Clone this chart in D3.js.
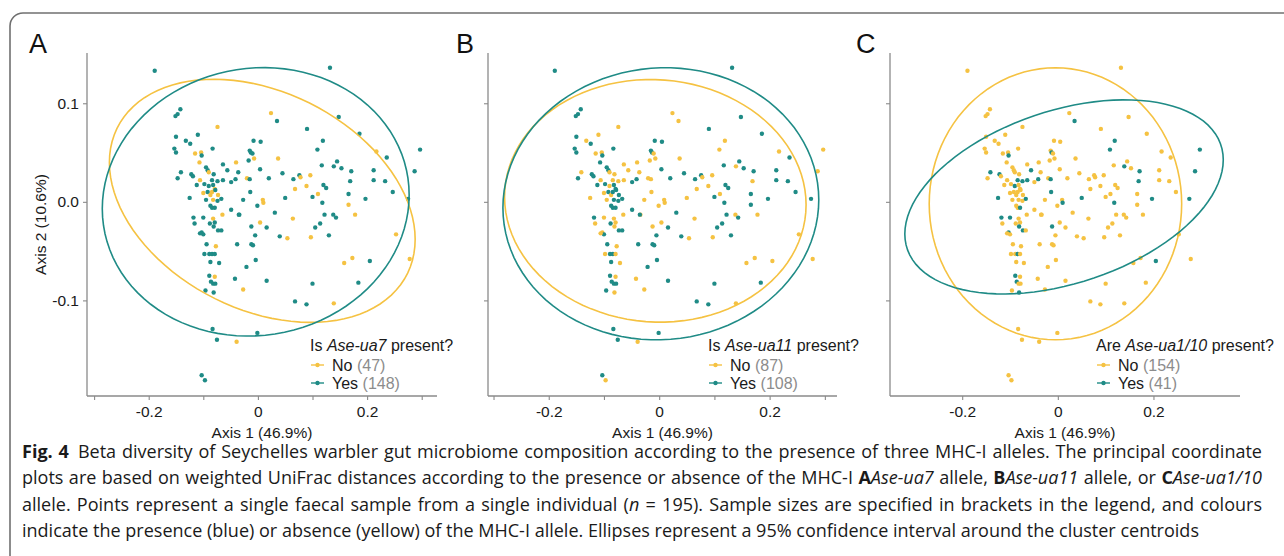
<!DOCTYPE html>
<html>
<head>
<meta charset="utf-8">
<script src="https://cdn.jsdelivr.net/npm/d3@7"></script>
<style>
body{margin:0;background:#fff}
svg{display:block}
</style>
</head>
<body>
<script>
// PCoA coordinates (axis 1, axis 2), one per sample
const pcoX=[
 -0.189, 0.132,-0.142,-0.147,-0.151, 0.024, 0.035, 0.148,-0.074, 0.090,
  0.186,-0.150,-0.110,-0.132,-0.124,-0.008, 0.005, 0.119,-0.153,-0.150,
 -0.083,-0.115,-0.104,-0.103,-0.015,-0.013,-0.010, 0.109, 0.217, 0.297,
  0.236,-0.017,-0.007, 0.037,-0.107,-0.040, 0.145, 0.117, 0.139, 0.153,
 -0.064,-0.095,-0.092,-0.090,-0.141,-0.122,-0.081,-0.056,-0.036, 0.004,
  0.045, 0.076, 0.078, 0.096, 0.171, 0.212, 0.212, 0.287,-0.147,-0.119,
 -0.106,-0.084,-0.074,-0.064,-0.049,-0.041,-0.020,-0.015, 0.020, 0.065,
  0.233,-0.112,-0.098,-0.090,-0.082,-0.079, 0.068, 0.089, 0.120, 0.125,
  0.169,-0.100,-0.092,-0.087,-0.084,-0.078,-0.073,-0.125,-0.095,-0.082,
 -0.074,-0.067,-0.027,-0.014, 0.009, 0.050, 0.100, 0.110, 0.166, 0.197,
  0.247, 0.275,-0.087,-0.084,-0.079,-0.049,-0.034,-0.001, 0.010, 0.031,
  0.118, 0.166,-0.100,-0.082,-0.118,-0.088,-0.079,-0.065,-0.035,-0.012,
  0.004, 0.016, 0.064, 0.105, 0.114, 0.122, 0.138, 0.143, 0.178,-0.116,
 -0.081,-0.073,-0.067,-0.103,-0.100,-0.106,-0.005, 0.040, 0.054, 0.097,
  0.130, 0.253,-0.094,-0.077,-0.038,-0.012,-0.009,-0.098,-0.089,-0.084,
 -0.079,-0.087,-0.071,-0.004,-0.021, 0.158, 0.173, 0.205, 0.278,-0.089,
 -0.079,-0.086,-0.082,-0.078,-0.042, 0.016,-0.096,-0.081,-0.027, 0.100,
  0.184, 0.068, 0.089, 0.139,-0.083,-0.075,-0.039,-0.001,-0.103,-0.097
];
const pcoY=[
  0.133, 0.136, 0.094, 0.089, 0.087, 0.090, 0.082, 0.086, 0.076, 0.074,
  0.069, 0.066, 0.068, 0.062, 0.059, 0.062, 0.061, 0.062, 0.054, 0.050,
  0.054, 0.049, 0.050, 0.047, 0.052, 0.050, 0.049, 0.053, 0.051, 0.053,
  0.045, 0.042, 0.044, 0.044, 0.040, 0.040, 0.041, 0.037, 0.036, 0.034,
  0.038, 0.035, 0.032, 0.030, 0.030, 0.028, 0.028, 0.032, 0.030, 0.033,
  0.029, 0.027, 0.025, 0.027, 0.031, 0.032, 0.022, 0.031, 0.024, 0.026,
  0.022, 0.022, 0.021, 0.022, 0.020, 0.023, 0.024, 0.023, 0.024, 0.023,
  0.021, 0.017, 0.018, 0.016, 0.017, 0.013, 0.013, 0.016, 0.017, 0.014,
  0.021, 0.009, 0.010, 0.007, 0.010, 0.012, 0.007, 0.004, 0.002, 0.002,
  0.001, 0.003, 0.002, 0.010, 0.002, 0.004, 0.005, 0.008, 0.008, 0.003,
  0.010, 0.003,-0.004,-0.006,-0.006,-0.008,-0.013,-0.004,-0.001,-0.011,
 -0.001,-0.003,-0.016,-0.017,-0.016,-0.022,-0.021,-0.013,-0.013,-0.025,
 -0.021,-0.026,-0.017,-0.026,-0.022,-0.013,-0.013,-0.016,-0.013,-0.022,
 -0.025,-0.029,-0.029,-0.031,-0.033,-0.032,-0.034,-0.035,-0.037,-0.036,
 -0.034,-0.033,-0.043,-0.045,-0.043,-0.043,-0.044,-0.053,-0.053,-0.053,
 -0.053,-0.061,-0.062,-0.059,-0.066,-0.062,-0.057,-0.060,-0.058,-0.075,
 -0.076,-0.081,-0.083,-0.083,-0.078,-0.080,-0.090,-0.092,-0.089,-0.083,
 -0.082,-0.101,-0.104,-0.103,-0.129,-0.140,-0.142,-0.133,-0.176,-0.181
];
// allele present (1 = Yes) per sample
const ua7=[
 1,1,1,1,1,0,1,1,0,1, 1,1,1,1,1,1,1,1,1,1, 1,0,0,1,1,1,1,1,0,1,
 1,1,0,0,0,0,1,1,1,1, 1,1,1,0,1,1,1,1,1,1, 1,1,0,0,1,1,1,1,1,1,
 0,1,1,1,1,1,0,1,1,1, 1,1,1,1,1,0,0,0,1,1, 1,0,1,0,0,1,0,1,1,0,
 1,1,1,1,0,1,1,0,1,1, 1,1,1,1,1,1,1,1,0,1, 1,0,1,0,1,1,1,0,1,1,
 0,1,0,1,1,1,1,1,0,1, 1,1,1,1,1,1,1,1,0,0, 1,0,1,0,1,1,1,1,1,1,
 1,1,1,1,1,0,0,1,0,1, 0,1,1,1,1,1,1,1,0,1, 1,1,1,0,1,1,0,1,1,1
];
const ua11=[
 1,1,1,1,1,0,0,1,0,1, 1,1,0,0,1,1,1,0,1,1, 1,0,0,1,1,1,0,0,0,0,
 1,0,0,0,1,0,1,1,0,1, 0,1,1,0,0,1,0,0,0,1, 1,1,0,0,1,1,1,0,1,1,
 0,0,0,0,1,1,0,0,1,1, 1,1,1,0,1,1,0,0,1,1, 0,0,1,0,1,1,1,0,0,1,
 1,1,0,0,0,0,1,0,1,1, 1,1,1,1,1,1,0,0,0,1, 1,1,0,0,1,1,0,0,1,0,
 0,1,0,1,1,1,0,1,0,0, 0,1,1,0,1,0,1,1,0,0, 1,0,1,0,1,1,1,0,1,1,
 0,1,0,1,1,0,0,0,0,1, 0,1,1,1,0,1,1,0,0,1, 1,1,1,0,1,1,0,1,1,0
];
const ua110=[
 0,0,0,0,0,0,1,0,0,0, 0,0,0,0,0,0,0,1,0,0, 0,0,0,1,0,1,0,1,0,1,
 0,0,0,0,0,0,0,0,1,0, 0,0,0,0,1,1,0,1,0,0, 0,0,0,0,1,0,0,1,0,0,
 0,1,1,1,0,1,0,1,0,0, 0,0,0,1,0,0,0,0,0,0, 1,0,0,0,0,0,0,1,0,0,
 0,1,0,1,0,1,0,0,0,1, 0,1,0,0,1,0,0,0,1,0, 1,0,1,0,1,0,0,0,0,1,
 0,0,0,0,0,0,0,0,0,0, 1,1,0,1,0,0,0,0,0,0, 0,0,0,0,0,0,0,0,0,1,
 0,0,0,0,0,0,0,1,0,1, 0,1,0,0,0,0,0,1,0,0, 0,0,0,0,0,0,0,0,0,0
];

const panelLetters=['A','B','C'];
const alleleNames=['Ase-ua7','Ase-ua11','Ase-ua1/10'];
const questionWords=[['Is','present?'],['Is','present?'],['Are','present?']];
const groupLabels=['No','Yes'];
const groupCounts=[[47,148],[87,108],[154,41]];
const xTickLabels=[-0.2,0,0.2];
const xTickMarks=[[-0.3,-0.2,-0.1,0,0.1,0.2,0.3],[-0.3,-0.2,-0.1,0,0.1,0.2,0.3],[-0.2,0,0.2]];
const yTickMarks=[0.1,0,-0.1];
const xDomains=[[-0.313,0.328],[-0.310,0.322],[-0.351,0.381]];
const yDomain=[-0.197,0.151];
const xTitle='Axis 1 (46.9%)';
const yTitle='Axis 2 (10.6%)';
// 95% ellipses: [cx, cy, rx, ry, shear] for No, Yes
const ellipseNo=[[0.008,0.001,0.280,0.117,-0.039],[-0.007,0.001,0.273,0.123,-0.004],[-0.005,-0.002,0.264,0.138,0.0]];
const ellipseYes=[[-0.004,0.000,0.281,0.136,0.007],[0.003,-0.002,0.286,0.138,0.004],[0.013,0.005,0.333,0.091,0.0376]];

const W=1284,H=556;
const colNo='#f5c242', colYes='#1f8b86';
const axisFont='"Liberation Sans", Arial, sans-serif';

const svg=d3.select('body').append('svg').attr('width',W).attr('height',H);

// frame round the figure
svg.append('rect').attr('x',10).attr('y',13).attr('width',1320).attr('height',620)
  .attr('rx',13).attr('fill','none').attr('stroke','#707070').attr('stroke-width',1.6);

const panelLeft=[87,488,890], panelRight=[437,837,1240];
const plotTop=53, plotBottom=396;
const letterX=[29,456,856];
const legX=[310,708,1096];
const groupsAll=[ua7,ua11,ua110];

panelLetters.forEach((lab,i)=>{
  const g=svg.append('g');
  const x=d3.scaleLinear().domain(xDomains[i]).range([panelLeft[i],panelRight[i]]);
  const y=d3.scaleLinear().domain(yDomain).range([plotBottom,plotTop]);
  const grp=groupsAll[i];

  // axes
  const xAxis=d3.axisBottom(x).tickValues(xTickMarks[i]).tickSize(4).tickSizeOuter(0).tickPadding(6)
    .tickFormat(d=> xTickLabels.includes(d) ? (d===0?'0':String(d)) : '');
  const yAxis=d3.axisLeft(y).tickValues(yTickMarks).tickSize(4).tickSizeOuter(0).tickPadding(4)
    .tickFormat(d=> i===0 ? d.toFixed(1) : '');
  const gx=g.append('g').attr('transform',`translate(0,${plotBottom})`).call(xAxis);
  const gy=g.append('g').attr('transform',`translate(${panelLeft[i]},0)`).call(yAxis);
  [gx,gy].forEach(a=>{
    a.select('.domain').attr('stroke','#8a8a8a').attr('stroke-width',1.3);
    a.selectAll('.tick line').attr('stroke','#8a8a8a').attr('stroke-width',1.1);
    a.selectAll('.tick text').attr('fill','#1a1a1a').style('font-family',axisFont).style('font-size','15.5px');
  });
  gx.select('.domain').attr('d',`M${panelLeft[i]},0H${panelRight[i]}`);
  gy.select('.domain').attr('d',`M0,${plotTop}V${plotBottom}`);

  // points
  g.append('g').selectAll('circle').data(pcoX.map((v,k)=>k)).join('circle')
    .attr('cx',k=>x(pcoX[k])).attr('cy',k=>y(pcoY[k])).attr('r',2.2)
    .attr('fill',k=>grp[k]?colYes:colNo);

  // ellipses
  const ell=(p)=>d3.range(0,101).map(s=>{
    const t=s/100*2*Math.PI;
    return [x(p[0]+p[2]*Math.cos(t)), y(p[1]+p[3]*Math.sin(t)+p[4]*Math.cos(t))];
  });
  const line=d3.line().curve(d3.curveLinearClosed);
  g.append('path').attr('d',line(ell(ellipseNo[i]))).attr('fill','none').attr('stroke',colNo).attr('stroke-width',1.6);
  g.append('path').attr('d',line(ell(ellipseYes[i]))).attr('fill','none').attr('stroke',colYes).attr('stroke-width',1.6);

  // panel letter
  svg.append('text').attr('x',letterX[i]).attr('y',53).text(lab)
    .style('font-family',axisFont).style('font-size','27px').attr('fill','#111');

  // x title
  svg.append('text').attr('x',(panelLeft[i]+panelRight[i])/2).attr('y',438).attr('text-anchor','middle')
    .text(xTitle).style('font-family',axisFont).style('font-size','15.5px').attr('fill','#1a1a1a');

  // legend
  const lt=svg.append('text').attr('x',legX[i]).attr('y',351)
    .style('font-family',axisFont).style('font-size','16px').attr('fill','#1a1a1a');
  lt.append('tspan').text(questionWords[i][0]+' ');
  lt.append('tspan').style('font-style','italic').text(alleleNames[i]);
  lt.append('tspan').text(' '+questionWords[i][1]);
  groupLabels.forEach((gl,j)=>{
    const ky=365+j*18;
    const c=j?colYes:colNo;
    svg.append('line').attr('x1',legX[i]+1).attr('x2',legX[i]+14).attr('y1',ky).attr('y2',ky)
      .attr('stroke',c).attr('stroke-width',1.4);
    svg.append('circle').attr('cx',legX[i]+7.5).attr('cy',ky).attr('r',2.2).attr('fill',c);
    const tx=svg.append('text').attr('x',legX[i]+22).attr('y',ky+5.5)
      .style('font-family',axisFont).style('font-size','16px').attr('fill','#1a1a1a');
    tx.append('tspan').text(gl+' ');
    tx.append('tspan').attr('fill','#8c8c8c').text('('+groupCounts[i][j]+')');
  });
});

// y title
svg.append('text').attr('transform',`translate(46,${(plotTop+plotBottom)/2}) rotate(-90)`)
  .attr('text-anchor','middle').text(yTitle)
  .style('font-family',axisFont).style('font-size','15.5px').attr('fill','#1a1a1a');

// caption
const captionLines=[
  [['b','Fig. 4'],['','\u2002Beta diversity of Seychelles warbler gut microbiome composition according to the presence of three MHC-I alleles. The principal coordinate']],
  [['','plots are based on weighted UniFrac distances according to the presence or absence of the MHC-I '],['b','A'],['i','Ase-ua7'],['',' allele, '],['b','B'],['i','Ase-ua11'],['',' allele, or '],['b','C'],['i','Ase-ua1/10']],
  [['','allele. Points represent a single faecal sample from a single individual ('],['i','n'],['',' = 195). Sample sizes are specified in brackets in the legend, and colours']],
  [['','indicate the presence (blue) or absence (yellow) of the MHC-I allele. Ellipses represent a 95% confidence interval around the cluster centroids']]
];
const capX=22, capRight=1262, lastRight=1200, capY0=458, capStep=26.3;
const capFont='"Open Sans", Lato, sans-serif';
const texts=captionLines.map((parts,li)=>{
  const t=svg.append('text').attr('x',capX).attr('y',capY0+li*capStep)
    .style('font-family',capFont).style('font-size','17px').attr('fill','#1a1a1a');
  parts.forEach(p=>{
    const s=t.append('tspan').text(p[1]);
    if(p[0]==='b') s.style('font-weight','bold');
    if(p[0]==='i') s.style('font-style','italic');
  });
  return t;
});
// size the caption so that the last (ragged) line ends where it does in the figure
const fs=17*(lastRight-capX)/texts[3].node().getComputedTextLength();
texts.forEach((t,li)=>{
  t.style('font-size',fs+'px');
  if(li<3){
    const w=t.node().getComputedTextLength();
    const n=captionLines[li].map(p=>p[1]).join('').split(' ').length-1;
    t.attr('word-spacing',((capRight-capX)-w)/n);
  }
});
</script>
</body>
</html>
